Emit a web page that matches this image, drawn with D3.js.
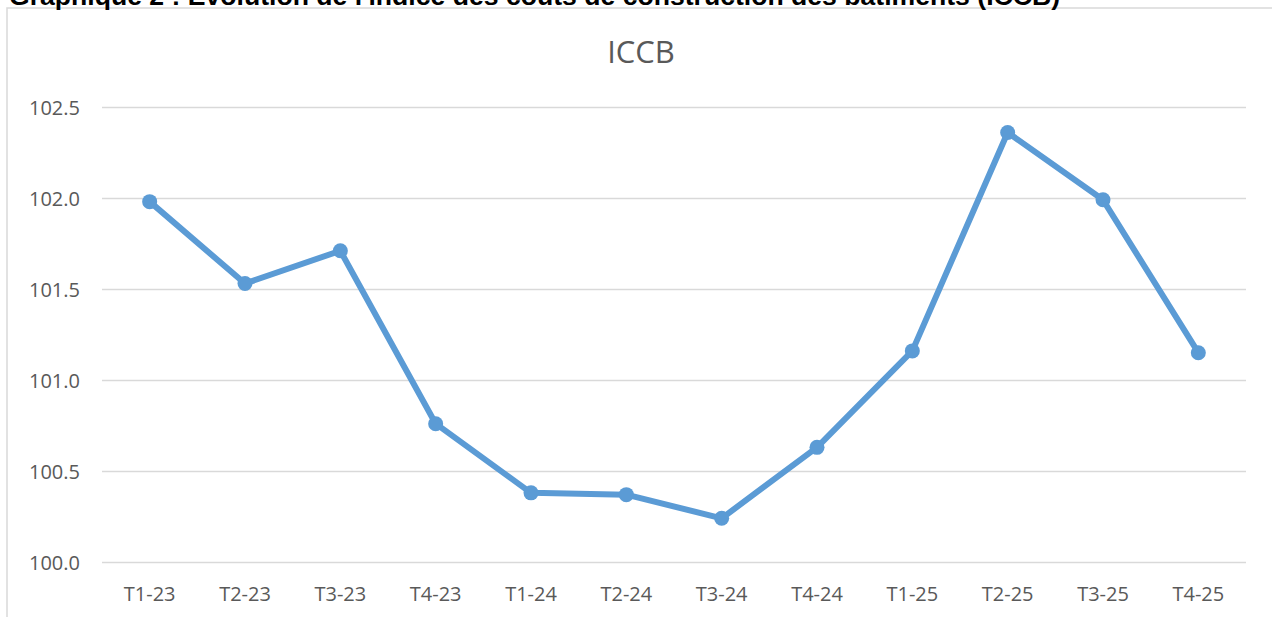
<!DOCTYPE html>
<html>
<head>
<meta charset="utf-8">
<script src="https://cdn.jsdelivr.net/npm/d3@7"></script>
<style>
  html, body { margin: 0; padding: 0; background: #fff; overflow: hidden; }
  svg { display: block; }
</style>
</head>
<body>
<svg id="chart" width="1272" height="617"></svg>
<script>
const categories = ["T1-23","T2-23","T3-23","T4-23","T1-24","T2-24","T3-24","T4-24","T1-25","T2-25","T3-25","T4-25"];
const iccbValues = [101.98,101.53,101.71,100.76,100.38,100.37,100.24,100.63,101.16,102.36,101.99,101.15];
const yTicks = [100.0,100.5,101.0,101.5,102.0,102.5];
const pageTitle = "Graphique 2 : Évolution de l'indice des coûts de construction des bâtiments (ICCB)";
const chartTitle = "ICCB";

const svg = d3.select("#chart");
const W = 1272, H = 617;
const plot = {left: 102, right: 1246, top: 107, bottom: 562};

// chart frame
svg.append("rect")
  .attr("x", 7).attr("y", 8)
  .attr("width", W + 20).attr("height", H + 20)
  .attr("fill", "none")
  .attr("stroke", "#D9D9D9")
  .attr("stroke-width", 1.5);

// page title (cut at top, as in the reference)
svg.append("text")
  .attr("x", 9).attr("y", 5)
  .attr("font-family", "'Liberation Sans', Arial, sans-serif")
  .attr("font-weight", "bold")
  .attr("font-size", 26.6)
  .attr("fill", "#000")
  .text(pageTitle);

const x = d3.scaleBand().domain(categories).range([plot.left, plot.right]).padding(0);
const y = d3.scaleLinear().domain([100.0, 102.5]).range([plot.bottom, plot.top]);

const font = "'Open Sans', sans-serif";

// gridlines
const yAxis = d3.axisLeft(y).tickValues(yTicks).tickFormat(d3.format(".1f"))
  .tickSize(-(plot.right - plot.left)).tickPadding(22);
const gy = svg.append("g").attr("transform", `translate(${plot.left},0)`).call(yAxis);
gy.select(".domain").remove();
gy.selectAll(".tick line").attr("stroke", "#D9D9D9").attr("stroke-width", 1.3);
gy.selectAll(".tick text")
  .attr("font-family", font).attr("font-size", 20).attr("fill", "#595959")
  .attr("dy", "0.36em");

// x axis labels
const xAxis = d3.axisBottom(x).tickSize(0).tickPadding(25);
const gx = svg.append("g").attr("transform", `translate(0,${plot.bottom})`).call(xAxis);
gx.select(".domain").remove();
gx.selectAll(".tick text")
  .attr("font-family", font).attr("font-size", 20).attr("fill", "#595959");

// chart title
svg.append("text")
  .attr("x", 641).attr("y", 63)
  .attr("text-anchor", "middle")
  .attr("font-family", font)
  .attr("font-size", 31)
  .attr("fill", "#595959")
  .text(chartTitle);

const cx = d => x(d) + x.bandwidth() / 2;
const data = categories.map((c, i) => ({c, v: iccbValues[i]}));

svg.append("path")
  .datum(data)
  .attr("fill", "none")
  .attr("stroke", "#5B9BD5")
  .attr("stroke-width", 6)
  .attr("stroke-linejoin", "round")
  .attr("d", d3.line().x(d => cx(d.c)).y(d => y(d.v)));

svg.append("g").selectAll("circle")
  .data(data).join("circle")
  .attr("cx", d => cx(d.c))
  .attr("cy", d => y(d.v))
  .attr("r", 7.5)
  .attr("fill", "#5B9BD5");
</script>
</body>
</html>
